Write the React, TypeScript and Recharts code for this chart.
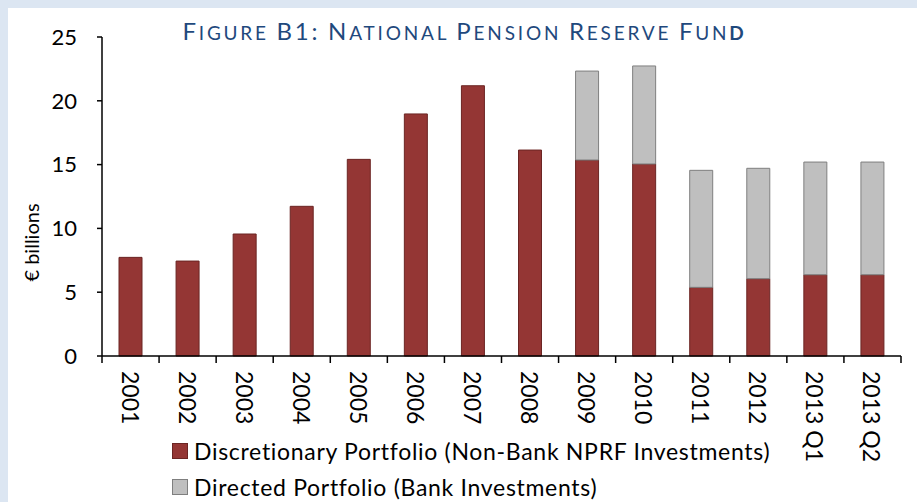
import React from 'react';
import { BarChart, Bar, XAxis, YAxis, Legend } from 'recharts';

const years = ['2001', '2002', '2003', '2004', '2005', '2006', '2007', '2008', '2009', '2010', '2011', '2012', '2013 Q1', '2013 Q2'];
const discretionary = [7.73, 7.44, 9.56, 11.73, 15.41, 18.97, 21.18, 16.14, 15.36, 15.05, 5.38, 6.06, 6.37, 6.37];
const directed = [null, null, null, null, null, null, null, null, 6.97, 7.68, 9.17, 8.65, 8.83, 8.83];
const yTicks = [0, 5, 10, 15, 20, 25];

const FONT = 'Lato, "Open Sans", sans-serif';

const COLORS = {
    red: '#943634',
    redStroke: '#6b2523',
    grey: '#bfbfbf',
    greyStroke: '#7f7f7f',
    title: '#1f497d',
};

const data = years.map((year, i) => ({
    year,
    discretionary: discretionary[i],
    directed: directed[i],
}));

const legendItems = [
    { label: 'Discretionary Portfolio (Non-Bank NPRF Investments)', fill: COLORS.red, stroke: COLORS.redStroke },
    { label: 'Directed Portfolio (Bank Investments)', fill: COLORS.grey, stroke: COLORS.greyStroke },
];

const TICK_MARGIN = 15;

// small caps done by hand: capitals big, the rest smaller
function SmallCaps({ text, big, small }: { text: string; big: number; small: number }) {
    return (
        <>
            {text.split('').map((ch, i) => {
                const isCap = ch !== ch.toLowerCase() || /[0-9:]/.test(ch);
                return (
                    <span key={i} style={{ fontSize: isCap ? big : small }}>
                        {ch.toUpperCase()}
                    </span>
                );
            })}
        </>
    );
}

// label rotated 90deg, plus Excel-style tick marks between categories
const XTick = (props: any) => {
    const { x, y, payload, index, width, visibleTicksCount } = props;
    const half = width / visibleTicksCount / 2;
    const axisY = y - TICK_MARGIN;
    const last = index === visibleTicksCount - 1;
    return (
        <g>
            <line x1={x - half} x2={x - half} y1={axisY} y2={axisY + 7} stroke="#000" strokeWidth={1.5} />
            {last && <line x1={x + half} x2={x + half} y1={axisY} y2={axisY + 7} stroke="#000" strokeWidth={1.5} />}
            <text
                transform={`translate(${x},${y}) rotate(90)`}
                textAnchor="start"
                dominantBaseline="central"
                fontSize={23}
                fontFamily={FONT}
                fill="#000"
            >
                {payload.value}
            </text>
        </g>
    );
};

const renderLegend = () => (
    <div style={{ fontFamily: FONT, fontSize: 23, letterSpacing: 0.7, color: '#000' }}>
        {legendItems.map((it) => (
            <div key={it.label} style={{ display: 'flex', alignItems: 'center', height: 36, whiteSpace: 'nowrap' }}>
                <span
                    style={{
                        display: 'inline-block',
                        width: 14,
                        height: 14,
                        background: it.fill,
                        border: `1px solid ${it.stroke}`,
                        marginRight: 6,
                    }}
                />
                {it.label}
            </div>
        ))}
    </div>
);

export default function App() {
    return (
        <div style={{ position: 'absolute', left: 0, top: 0, width: 917, height: 502, background: '#dce6f2' }}>
            <div style={{ position: 'absolute', left: 8, top: 8, width: 909, height: 494, background: '#fff' }}>
                <div
                    style={{
                        position: 'absolute',
                        left: 0,
                        width: 909,
                        top: 9,
                        textAlign: 'center',
                        paddingLeft: 2,
                        color: COLORS.title,
                        fontFamily: FONT,
                        letterSpacing: 2.8,
                        lineHeight: '28px',
                        whiteSpace: 'nowrap',
                    }}
                >
                    <SmallCaps text="Figure B1: National Pension Reserve Fun" big={24} small={19} />
                    <span style={{ fontSize: 19, fontWeight: 700 }}>D</span>
                </div>
                <BarChart
                    width={909}
                    height={494}
                    data={data}
                    margin={{ top: 29, right: 16, left: 0, bottom: 0 }}
                    barSize={23}
                >
                    <XAxis
                        dataKey="year"
                        interval={0}
                        tick={<XTick />}
                        tickLine={false}
                        tickSize={0}
                        tickMargin={TICK_MARGIN}
                        axisLine={{ stroke: '#000', strokeWidth: 1.5 }}
                        height={146}
                    />
                    <YAxis
                        domain={[0, 25]}
                        ticks={yTicks}
                        width={94}
                        tickSize={5}
                        tickMargin={20}
                        tick={{ fill: '#000', fontSize: 22, fontFamily: FONT }}
                        tickLine={{ stroke: '#000', strokeWidth: 1.5 }}
                        axisLine={{ stroke: '#000', strokeWidth: 1.5 }}
                        label={{
                            content: (p: any) => {
                                const vb = p.viewBox;
                                const cx = vb.x + 23;
                                const cy = vb.y + vb.height / 2 + 46;
                                return (
                                    <text
                                        x={cx}
                                        y={cy}
                                        transform={`rotate(-90, ${cx}, ${cy})`}
                                        textAnchor="middle"
                                        dominantBaseline="central"
                                        fontSize={20}
                                        fontFamily={FONT}
                                        fill="#000"
                                    >
                                        € billions
                                    </text>
                                );
                            },
                        }}
                    />
                    <Bar
                        dataKey="discretionary"
                        stackId="a"
                        fill={COLORS.red}
                        stroke={COLORS.redStroke}
                        strokeWidth={1}
                        isAnimationActive={false}
                    />
                    <Bar
                        dataKey="directed"
                        stackId="a"
                        fill={COLORS.grey}
                        stroke={COLORS.greyStroke}
                        strokeWidth={1}
                        isAnimationActive={false}
                    />
                    <Legend
                        layout="vertical"
                        align="center"
                        verticalAlign="middle"
                        content={renderLegend}
                        wrapperStyle={{ left: 164, top: 425, width: 'auto' }}
                    />
                </BarChart>
            </div>
        </div>
    );
}
